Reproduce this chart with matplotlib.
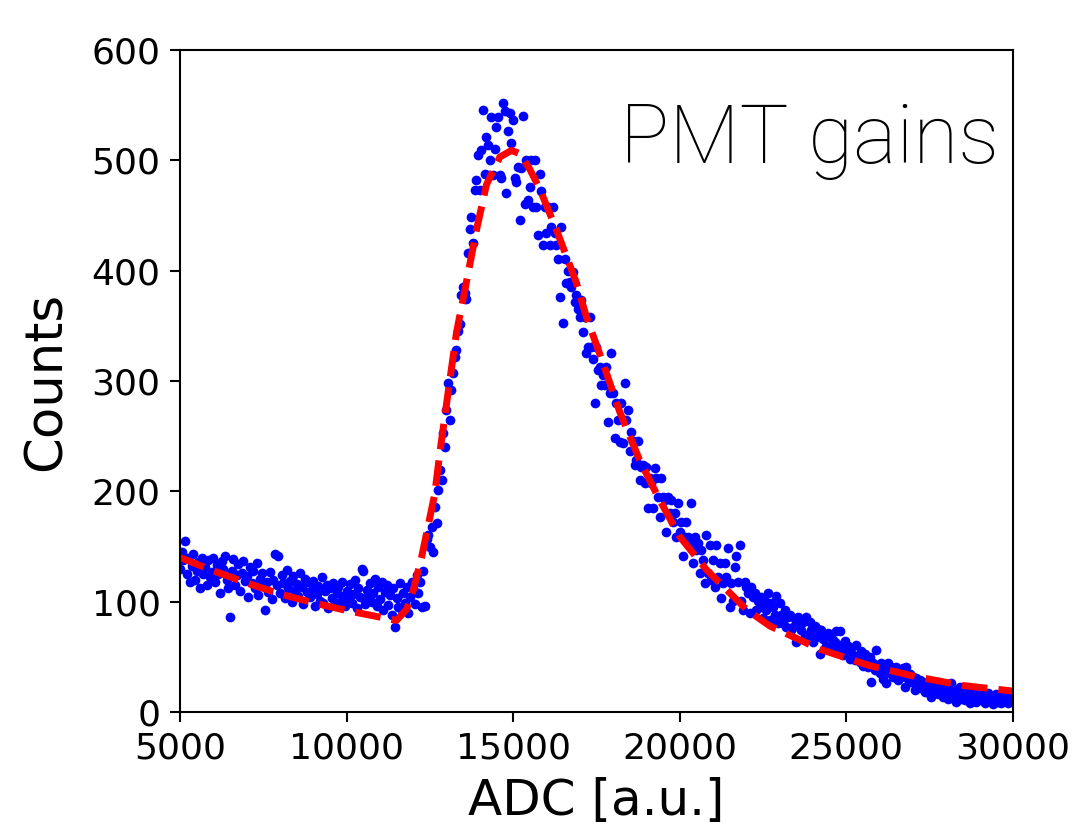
import numpy as np
import matplotlib
matplotlib.use("Agg")
import matplotlib.pyplot as plt

# histogram bins (50 ADC wide) and counts
bin_start = 5000
bin_width = 50
counts = [
    130, 145, 138, 155, 125, 140, 118, 132, 143, 120,
    128, 136, 112, 140, 125, 131, 115, 138, 122, 127,
    140, 118, 133, 125, 108, 137, 130, 141, 120, 112,
    86, 128, 139, 115, 124, 134, 110, 126, 137, 119,
    123, 104, 131, 117, 128, 112, 135, 106, 121, 126,
    114, 92, 118, 109, 127, 102, 120, 143, 115, 141,
    108, 124, 117, 103, 129, 112, 119, 100, 123, 110,
    116, 105, 126, 113, 98, 121, 109, 118, 104, 111,
    119, 96, 107, 114, 101, 122, 99, 110, 115, 94,
    112, 103, 117, 97, 108, 113, 100, 118, 105, 96,
    110, 102, 116, 99, 107, 120, 94, 112, 104, 130,
    128, 98, 111, 105, 117, 100, 108, 121, 96, 113,
    102, 118, 92, 109, 115, 97, 106, 88, 112, 77,
    103, 95, 117, 92, 108, 99, 113, 90, 104, 118,
    112, 98, 124, 108, 118, 95, 128, 96, 157, 160,
    150, 168, 145, 186, 171, 201, 219, 210, 253, 240,
    274, 298, 265, 292, 307, 322, 328, 345, 352, 378,
    385, 380, 374, 416, 438, 449, 425, 473, 482, 505,
    473, 509, 546, 488, 521, 514, 500, 539, 487, 510,
    530, 539, 487, 484, 552, 545, 470, 527, 543, 516,
    537, 484, 480, 494, 446, 493, 540, 460, 500, 464,
    476, 500, 458, 500, 458, 432, 488, 472, 423, 458,
    434, 458, 423, 440, 458, 434, 423, 411, 376, 440,
    353, 411, 389, 400, 390, 385, 399, 372, 378, 365,
    358, 373, 344, 358, 325, 331, 358, 331, 320, 280,
    331, 310, 313, 296, 305, 296, 313, 263, 289, 325,
    289, 248, 280, 265, 245, 280, 244, 298, 265, 274,
    237, 254, 246, 224, 228, 246, 210, 222, 224, 208,
    222, 185, 212, 208, 185, 221, 212, 195, 177, 212,
    195, 192, 163, 195, 180, 192, 172, 180, 159, 189,
    163, 172, 141, 159, 172, 159, 153, 189, 135, 159,
    147, 153, 126, 147, 138, 117, 160, 126, 151, 120,
    138, 113, 151, 122, 135, 103, 117, 135, 122, 149,
    95, 117, 101, 131, 141, 118, 151, 101, 92, 118,
    113, 108, 90, 113, 104, 108, 92, 101, 95, 104,
    85, 101, 92, 108, 83, 99, 95, 88, 105, 81,
    99, 88, 81, 92, 77, 86, 88, 74, 77, 84,
    63, 86, 80, 74, 82, 70, 86, 67, 82, 74,
    63, 78, 68, 75, 53, 74, 66, 70, 60, 72,
    68, 58, 65, 63, 73, 56, 73, 61, 52, 64,
    56, 60, 48, 58, 52, 47, 61, 50, 45, 55,
    42, 53, 47, 41, 50, 27, 44, 38, 56, 40,
    35, 44, 30, 38, 26, 44, 35, 41, 32, 38,
    41, 29, 35, 32, 40, 23, 41, 30, 34, 27,
    32, 20, 31, 25, 29, 22, 27, 18, 24, 21,
    28, 14, 23, 19, 24, 16, 21, 26, 14, 19,
    22, 12, 18, 26, 15, 20, 9, 17, 23, 12,
    16, 11, 19, 13, 8, 16, 11, 18, 9, 14,
    20, 11, 15, 8, 13, 17, 10, 14, 7, 12,
    16, 9, 13, 8, 17, 10, 14, 8, 11, 13,
]
adc = bin_start + bin_width * np.arange(len(counts))

# fit curve
fit_x = [5000, 6000, 7000, 8000, 9000, 10000, 11000, 11500, 11800, 12000,
         12250, 12650, 12800, 13050, 13300, 13600, 13900, 14200, 14600, 14950,
         15200, 15500, 15800, 16300, 16900, 17200, 17700, 18200, 18800, 19400,
         20000, 20800, 21400, 22000, 22700, 24200, 25700, 27100, 28500, 30000]
fit_y = [140, 128, 117, 107, 99, 92, 86, 83, 93, 110,
         140, 198, 235, 290, 344, 390, 437, 478, 503, 509,
         506, 492, 474, 437, 389, 358, 316, 272, 228, 192,
         159, 129, 111, 93, 78, 57, 42, 32, 24, 19]

fig = plt.figure(figsize=(10.86, 8.35), dpi=100)
ax = fig.add_axes([0.1657, 0.1473, 0.767, 0.7928])

ax.plot(adc, counts, 'o', color='blue', markersize=7, markeredgewidth=0)
ax.plot(fit_x, fit_y, '--', color='red', linewidth=5)

ax.set_xlim(5000, 30000)
ax.set_ylim(0, 600)
ax.set_xticks([5000, 10000, 15000, 20000, 25000, 30000])
ax.set_yticks([0, 100, 200, 300, 400, 500, 600])
ax.tick_params(labelsize=26, length=7, width=1.5, pad=7)
for s in ax.spines.values():
    s.set_linewidth(1.5)

ax.set_xlabel('ADC [a.u.]', fontsize=36, labelpad=8)
ax.set_ylabel('Counts', fontsize=37, labelpad=14)

ax.text(0.984, 0.829, 'PMT gains', transform=ax.transAxes, ha='right',
        va='baseline', fontsize=59, family=['Roboto', 'Lato'], fontweight='light')

fig.savefig('out.png', dpi=100)
